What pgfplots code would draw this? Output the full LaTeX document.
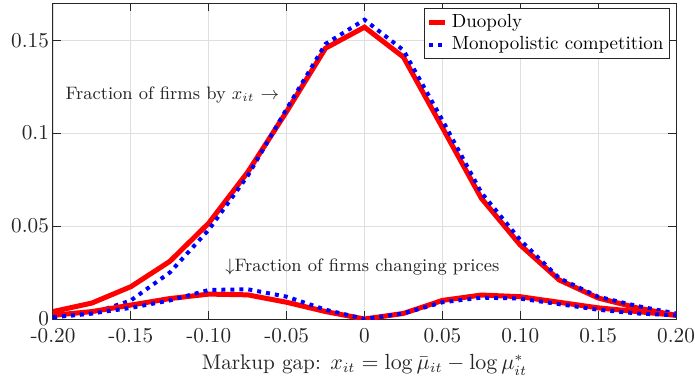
\documentclass[border=0pt]{standalone}
\usepackage{pgfplots}
\pgfplotsset{compat=1.18}
\definecolor{axgray}{RGB}{38,38,38}
\begin{document}
\begin{tikzpicture}
\begin{axis}[
  at={(0pt,0pt)}, anchor=south west,
  scale only axis,
  width=311.5pt, height=158pt,
  xmin=-0.2, xmax=0.2, ymin=0, ymax=0.17,
  xtick={-0.2,-0.15,-0.1,-0.05,0,0.05,0.1,0.15,0.2},
  xticklabels={-0.20,-0.15,-0.10,-0.05,0,0.05,0.10,0.15,0.20},
  ytick={0,0.05,0.1,0.15},
  yticklabels={0,0.05,0.1,0.15},
  tick align=inside,
  tick pos=both,
  major tick length=4pt,
  grid=major,
  major grid style={gray!25, line width=0.4pt},
  axis line style={axgray, line width=0.5pt},
  every tick/.style={axgray, line width=0.5pt},
  tick label style={font=\fontsize{10.6}{12}\selectfont, text=axgray},
  yticklabel style={xshift=1.5pt},
  xticklabel style={yshift=-1pt},
  xlabel={Markup gap: $x_{it} = \log\bar{\mu}_{it} - \log\mu^*_{it}$},
  xlabel style={text=axgray, yshift=1pt, font=\fontsize{10.6}{12}\selectfont},
  legend style={at={(0.9904,0.984)}, anchor=north east, draw=axgray, line width=0.5pt,
    font=\fontsize{9.5}{11}\selectfont, inner sep=1pt, row sep=-1pt, cells={anchor=west}},
  legend image code/.code={\draw[#1] (0pt,0pt) -- (8pt,0pt);},
  clip=true,
]
\addplot[red, line width=2.5pt] coordinates {
(-0.2,0.004) (-0.175,0.0086) (-0.15,0.0174) (-0.125,0.031) (-0.1,0.0516) (-0.075,0.079) (-0.05,0.1116) (-0.025,0.1457) (0,0.157) (0.025,0.1409) (0.05,0.103) (0.075,0.065) (0.1,0.0398) (0.125,0.021) (0.15,0.0113) (0.175,0.006) (0.2,0.002)};
\addlegendentry{Duopoly}
\addplot[blue, line width=2pt, dash pattern=on 2pt off 2.5pt] coordinates {
(-0.2,0.001) (-0.175,0.003) (-0.15,0.010) (-0.125,0.025) (-0.1,0.048) (-0.075,0.077) (-0.05,0.113) (-0.025,0.148) (0,0.161) (0.025,0.1446) (0.05,0.107) (0.075,0.068) (0.1,0.0425) (0.125,0.022) (0.15,0.012) (0.175,0.007) (0.2,0.003)};
\addlegendentry{Monopolistic competition}
\addplot[red, line width=2.5pt, forget plot] coordinates {
(-0.2,0.002) (-0.175,0.004) (-0.15,0.0075) (-0.125,0.011) (-0.1,0.0134) (-0.075,0.013) (-0.05,0.009) (-0.025,0.004) (0,0.0) (0.025,0.003) (0.05,0.010) (0.075,0.0129) (0.1,0.012) (0.125,0.009) (0.15,0.006) (0.175,0.004) (0.2,0.002)};
\addplot[blue, line width=2pt, dash pattern=on 2pt off 2.5pt, forget plot] coordinates {
(-0.2,0.001) (-0.175,0.003) (-0.15,0.006) (-0.125,0.010) (-0.1,0.0156) (-0.075,0.016) (-0.05,0.012) (-0.025,0.005) (0,0.0) (0.025,0.003) (0.05,0.009) (0.075,0.0115) (0.1,0.011) (0.125,0.008) (0.15,0.005) (0.175,0.003) (0.2,0.002)};
\node[anchor=east, inner sep=0pt, text=axgray, font=\small] at (axis cs:-0.0545,0.1204) {Fraction of firms by $x_{it}$ $\rightarrow$};
\node[anchor=west, inner sep=0pt, text=axgray, font=\small] at (axis cs:-0.0896,0.028) {$\downarrow$Fraction of firms changing prices};
\end{axis}
\pgfresetboundingbox
\path[use as bounding box] (-26.5pt,-31.5pt) rectangle (321pt,159.5pt);
\end{tikzpicture}
\end{document}
